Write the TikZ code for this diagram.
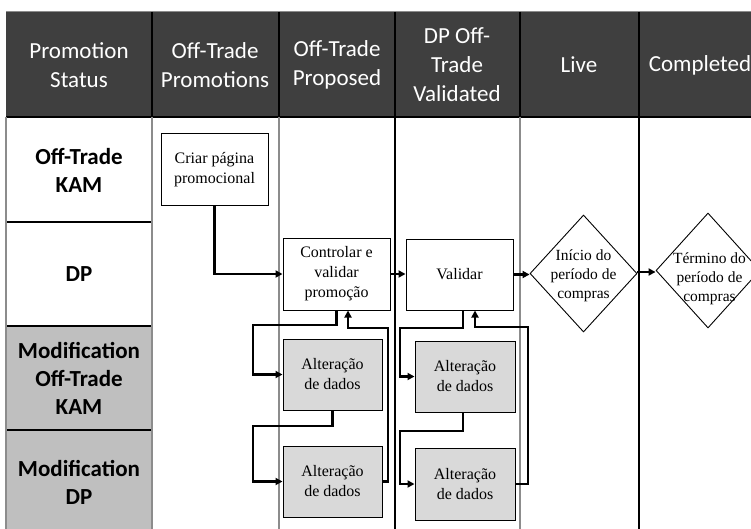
\documentclass[tikz,border=0pt]{standalone}
\usepackage{fontspec}
\setmainfont{Liberation Serif}
\newfontfamily\hdfont{Carlito}
\usetikzlibrary{shapes.geometric,arrows.meta}
\definecolor{headfill}{HTML}{3F3F3F}
\definecolor{modfill}{HTML}{BFBFBF}
\definecolor{boxfill}{HTML}{D9D9D9}
\definecolor{laneline}{HTML}{8C8C8C}

\begin{document}
\begin{tikzpicture}[x=1pt,y=-1pt,
  headtext/.style={text=white, font=\hdfont\fontsize{23}{29}\selectfont, align=center, inner sep=0pt},
  lanelabel/.style={font=\hdfont\bfseries\fontsize{23}{28}\selectfont, align=center, inner sep=0pt},
  task/.style={draw=black, line width=1pt, fill=white, minimum width=107pt, minimum height=72pt,
    inner sep=0pt, align=center, font=\fontsize{16}{20}\selectfont},
  modtask/.style={task, fill=boxfill, minimum width=99pt, minimum height=71pt},
  event/.style={draw=black, line width=0.9pt, fill=white, shape=diamond, inner sep=0pt,
    minimum width=107pt, minimum height=117pt},
  eventtext/.style={align=center, font=\fontsize{15.5}{19}\selectfont, inner sep=0pt},
  flow/.style={line width=2.4pt, -{Triangle[length=7pt,width=7pt]}},
  greyrule/.style={draw=laneline, line width=1.8pt},
  darkrule/.style={draw=black, line width=1.3pt},
]
\useasboundingbox (0,0) rectangle (751,529);
\clip (0,0) rectangle (751,529);

% header band
\fill[headfill] (6,12) rectangle (751,117);
\draw[laneline, line width=1pt] (6,12) -- (751,12);
\foreach \x in {152,279,395,520,639}
  \draw[black, line width=1.5pt] (\x,12) -- (\x,117);
\draw[black, line width=1.3pt] (6,117) -- (751,117);

% lane label column
\fill[modfill] (6,326) rectangle (152,529);
\foreach \y in {222,326,430}
  \draw[darkrule] (6,\y) -- (152,\y);
\draw[greyrule] (6,117) -- (6,529);

% stage columns
\foreach \x in {152,279,520}
  \draw[greyrule] (\x,117) -- (\x,529);
\foreach \x in {395,639}
  \draw[darkrule] (\x,117) -- (\x,529);

% header texts
\node[headtext] (hstatus) at (79,65)  {Promotion\\Status};
\node[headtext] (hoffp)   at (215,65) {Off-Trade\\Promotions};
\node[headtext] (hprop)   at (337,65) {Off-Trade\\Proposed};
\node[headtext] (hval)    at (457,65) {DP Off-\\Trade\\Validated};
\node[headtext] (hlive)   at (579,65) {Live};
\node[headtext] (hdone)   at (700,65) {Completed};

% lane labels
\node[lanelabel] (lkam)  at (79,170) {Off-Trade\\KAM};
\node[lanelabel] (ldp)   at (79,274) {DP};
\node[lanelabel] (lmkam) at (79,378) {Modification\\Off-Trade\\KAM};
\node[lanelabel] (lmdp)  at (79,482) {Modification\\DP};

% tasks
\node[task] (crp) at (214.5,170) {Criar página\\promocional};
\node[task] (ctl) at (336.5,274) {Controlar e\\validar\\promoção};
\node[task, minimum height=71pt] (val) at (459.5,274.5) {Validar};
\node[modtask] (alt1) at (332.5,374.5) {Alteração\\de dados};
\node[modtask] (alt2) at (332.5,481.5) {Alteração\\de dados};
\node[modtask, minimum width=100pt] (alt3) at (465,376.5) {Alteração\\de dados};
\node[modtask, minimum width=100pt, minimum height=72pt] (alt4) at (465,484) {Alteração\\de dados};

% events
\node[event] (d1) at (583.5,273.5) {};
\node[eventtext] (t1) at ([yshift=-2.5pt]d1.center) {Início do\\período de\\compras};
\node[event, minimum width=104pt, minimum height=115pt] (d2) at (708,270.5) {};
\node[eventtext] (t2) at ([xshift=1.5pt,yshift=-8pt]d2.center) {Término do\\período de\\compras};

% main flow
\draw[flow] (crp.south) |- (ctl.west);
\draw[flow] (ctl.east) -- (ctl.east -| val.west);
\draw[flow] (val.east) -- (val.east -| d1.west);
\draw[flow] ([yshift=1.5pt]d1.east) -- ([yshift=1.5pt]d1.east -| d2.west);

% modification loop, proposed stage
\draw[flow] (ctl.south) |- (253,325) |- (alt1.west);
\draw[flow] (alt1.south) |- (253,426) |- (alt2.west);
\draw[flow] (alt2.east) -| (388,328) -| ([xshift=11.5pt]ctl.south);

% modification loop, validated stage
\draw[flow] ([xshift=3.5pt]val.south) |- (400,328) |- (alt3.west);
\draw[flow] ([xshift=-2pt]alt3.south) |- (400,431) |- (alt4.west);
\draw[flow] (alt4.east) -| (528,327) -| ([xshift=15.5pt]val.south);
\end{tikzpicture}
\end{document}
